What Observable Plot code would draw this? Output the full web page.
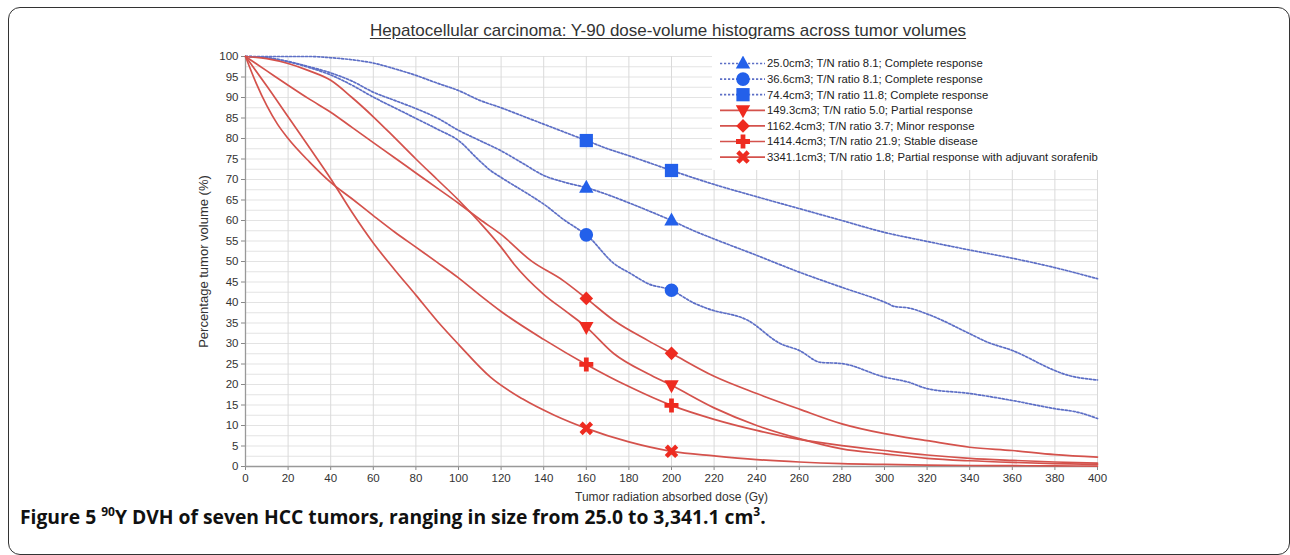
<!DOCTYPE html>
<html><head><meta charset="utf-8">
<script src="https://cdn.jsdelivr.net/npm/d3@7"></script>
<script src="https://cdn.jsdelivr.net/npm/@observablehq/plot@0.6"></script>
<style>
body{margin:0;background:#fff;}
#wrap{position:relative;width:1290px;height:555px;overflow:hidden;font-family:"Liberation Sans",Arial,sans-serif;background:#fff;}
#frame{position:absolute;left:8px;top:7px;width:1282px;height:548px;border:1.6px solid #333;border-radius:12px;box-sizing:border-box;}
#title{position:absolute;left:0;width:1336px;top:21px;text-align:center;font-size:17px;color:#333;text-decoration:underline;text-underline-offset:2px;white-space:nowrap;}
#chart{position:absolute;left:0;top:0;}
#legend{position:absolute;left:712px;top:56px;width:388px;height:114px;background:#fff;}
#cap{position:absolute;left:20px;top:507px;font-family:"Open Sans",Lato,sans-serif;font-weight:700;font-size:19.3px;line-height:20px;color:#111;white-space:nowrap;}
#cap sup{font-size:12px;vertical-align:8px;line-height:0;}
</style></head>
<body>
<div id="wrap">
  <div id="frame"></div>
  <div id="chart"></div>
  <div id="title">Hepatocellular carcinoma: Y-90 dose-volume histograms across tumor volumes</div>
  <div id="legend"></div>
  <div id="cap">Figure 5 <sup>90</sup>Y DVH of seven HCC tumors, ranging in size from 25.0 to 3,341.1 cm<sup>3</sup>.</div>
</div>
<script>
// ---------- data ----------
const xTicks = [0,20,40,60,80,100,120,140,160,180,200,220,240,260,280,300,320,340,360,380,400];
const yTicks = [0,5,10,15,20,25,30,35,40,45,50,55,60,65,70,75,80,85,90,95,100];
const yGrid = [0,2.5,5,7.5,10,12.5,15,17.5,20,22.5,25,27.5,30,32.5,35,37.5,40,42.5,45,47.5,50,52.5,55,57.5,60,62.5,65,67.5,70,72.5,75,77.5,80,82.5,85,87.5,90,92.5,95,97.5,100];

const seriesNames = [
  "25.0cm3; T/N ratio 8.1; Complete response",
  "36.6cm3; T/N ratio 8.1; Complete response",
  "74.4cm3; T/N ratio 11.8; Complete response",
  "149.3cm3; T/N ratio 5.0; Partial response",
  "1162.4cm3; T/N ratio 3.7; Minor response",
  "1414.4cm3; T/N ratio 21.9; Stable disease",
  "3341.1cm3; T/N ratio 1.8; Partial response with adjuvant sorafenib"
];

const dose25 = [0,10,20,30,40,50,60,70,80,90,100,110,120,130,140,150,160,170,180,190,200,210,220,240,260,280,300,305,311,320,340,348,360,380,384,400];
const vol25  = [100,99.7,98.8,97.5,96,94,91.3,89.3,87.3,85,82,79.5,77,74,71,69.3,68,66.3,64.3,62.2,60,57.6,55.5,51.5,47.4,43.7,40.1,39,38.7,37.2,32.4,30.4,28.3,23.4,22.6,21.1];

const dose36 = [0,10,20,30,40,50,60,70,80,90,100,110,115,120,135,140,150,157,160,173,181,189,200,210,217,236,251,260,270,280,300,311,320,340,360,380,391,400];
const vol36  = [100,99.7,98.7,97.3,95.5,93,90.1,87.5,84.9,82.3,79.5,74.5,72.2,70.5,65.7,64,60,57.6,56.5,49.5,47,44.6,43,40,38.5,35.6,30,28.3,25.4,25.1,21.8,20.6,19,17.8,16.1,14.1,13.2,11.7];

const dose74 = [0,30,40,50,60,70,80,90,100,110,120,130,140,150,160,170,180,190,200,220,240,260,280,300,320,340,360,380,400];
const vol74  = [100,100,99.7,99.2,98.4,97,95.4,93.5,91.7,89.3,87.5,85.5,83.5,81.5,79.5,77.5,75.8,74,72.2,68.8,65.8,62.9,60,57.1,54.9,52.8,50.8,48.5,45.8];

const dose149 = [0,10,20,30,40,50,60,70,80,90,100,110,120,126,140,150,160,173,189,200,220,240,260,280,300,320,340,360,380,400];
const vol149  = [100,99.5,98.3,96.5,94.2,90,85.3,80.2,75,70,65,59.5,53.5,49.4,42,38,34,27.5,22.6,19.8,14.3,10,6.8,4.3,3.1,2,1.4,1,0.7,0.5];

const dose1162 = [0,10,20,30,40,50,60,70,80,90,100,110,120,134,149,160,173,189,200,220,240,260,280,300,320,340,360,380,400];
const vol1162  = [100,96.5,93,89.6,86.4,82.7,79,75.3,71.6,67.9,64.2,60.3,56.6,50.2,45.4,41,35.6,30.7,27.6,22,17.8,14,10.4,8,6.3,4.7,3.9,2.9,2.3];

const dose1414 = [0,5,10,15,20,30,40,50,60,70,80,90,100,110,120,140,160,180,200,220,240,260,280,300,320,340,360,380,400];
const vol1414  = [100,93.5,88,83.5,80,74.3,69.3,65.3,61.2,57.2,53.5,49.8,46,41.8,37.8,31,24.9,19.5,14.9,11.5,8.8,6.6,5.1,3.9,2.8,2,1.5,1.1,0.8];

const dose3341 = [0,10,20,30,40,50,60,70,80,90,100,115,130,145,160,180,200,220,240,260,280,300,320,340,360,380,400];
const vol3341  = [100,92.8,85.3,77.8,70.2,62,54.5,48,41.8,35.5,29.8,21.8,16.5,12.5,9.3,6,3.7,2.6,1.7,1.1,0.7,0.5,0.35,0.25,0.2,0.15,0.1];

const markerDose = [160,200];
const mark25 = [68,60];
const mark36 = [56.5,43];
const mark74 = [79.5,72.2];
const mark149 = [34,19.8];
const mark1162 = [41,27.6];
const mark1414 = [24.9,14.9];
const mark3341 = [9.3,3.7];

// ---------- symbols ----------
const hOf = s => Math.sqrt(s/Math.PI);
const symTriUp = {draw(c,s){const h=hOf(s);c.moveTo(0,-1.1*h);c.lineTo(h,0.7*h);c.lineTo(-h,0.7*h);c.closePath();}};
const symTriDown = {draw(c,s){const h=hOf(s);c.moveTo(0,1.1*h);c.lineTo(h,-0.7*h);c.lineTo(-h,-0.7*h);c.closePath();}};
const symCircle = {draw(c,s){const h=hOf(s);c.moveTo(h,0);c.arc(0,0,h,0,2*Math.PI);}};
const symSquare = {draw(c,s){const h=hOf(s)*0.92;c.rect(-h,-h,2*h,2*h);}};
const symDiamond = {draw(c,s){const h=hOf(s);c.moveTo(0,-h);c.lineTo(h,0);c.lineTo(0,h);c.lineTo(-h,0);c.closePath();}};
function crossPts(h,t,rot){
  const p=[[-t,-h],[t,-h],[t,-t],[h,-t],[h,t],[t,t],[t,h],[-t,h],[-t,t],[-h,t],[-h,-t],[-t,-t]];
  const ca=Math.cos(rot), sa=Math.sin(rot);
  return p.map(([x,y])=>[x*ca-y*sa,x*sa+y*ca]);
}
const symPlus = {draw(c,s){const h=hOf(s);const p=crossPts(h,h*0.34,0);c.moveTo(...p[0]);p.slice(1).forEach(q=>c.lineTo(...q));c.closePath();}};
const symTimes = {draw(c,s){const h=hOf(s)*1.05;const p=crossPts(h,h*0.3,Math.PI/4);c.moveTo(...p[0]);p.slice(1).forEach(q=>c.lineTo(...q));c.closePath();}};

const BLUE_LINE="#5d6fc6", BLUE_FILL="#2360ea", RED_LINE="#d4524c", RED_FILL="#ee2b20";

const series = [
  {name:seriesNames[0], dose:dose25, vol:vol25, mark:mark25, sym:symTriUp, blue:true, r:7.2},
  {name:seriesNames[1], dose:dose36, vol:vol36, mark:mark36, sym:symCircle, blue:true, r:6.8},
  {name:seriesNames[2], dose:dose74, vol:vol74, mark:mark74, sym:symSquare, blue:true, r:7.2},
  {name:seriesNames[3], dose:dose149, vol:vol149, mark:mark149, sym:symTriDown, blue:false, r:7.2},
  {name:seriesNames[4], dose:dose1162, vol:vol1162, mark:mark1162, sym:symDiamond, blue:false, r:6.8},
  {name:seriesNames[5], dose:dose1414, vol:vol1414, mark:mark1414, sym:symPlus, blue:false, r:7},
  {name:seriesNames[6], dose:dose3341, vol:vol3341, mark:mark3341, sym:symTimes, blue:false, r:7}
];

const lineMarks = [];
const dotMarks = [];
for (const s of series) {
  const pts = s.dose.map((d,i)=>({d, v:s.vol[i]}));
  lineMarks.push(Plot.line(pts, {x:"d", y:"v", curve:"monotone-x",
    stroke: s.blue?BLUE_LINE:RED_LINE, strokeWidth:1.7,
    strokeDasharray: s.blue?"2.2,1.8":null}));
  const mk = markerDose.map((d,i)=>({d, v:s.mark[i]}));
  dotMarks.push(Plot.dot(mk, {x:"d", y:"v", symbol:s.sym, r:s.r, fill:s.blue?BLUE_FILL:RED_FILL, stroke:"none"}));
}

const chart = Plot.plot({
  width:1290, height:555,
  marginLeft:245, marginRight:193, marginTop:56, marginBottom:89,
  x:{domain:[0,400]},
  y:{domain:[0,100]},
  style:{fontFamily:"'Liberation Sans', Arial, sans-serif", fontSize:"11.5px", color:"#333", background:"transparent", overflow:"visible"},
  marks:[
    Plot.ruleY(yGrid, {stroke:"#e3e3e3", strokeWidth:1}),
    Plot.ruleX(xTicks, {stroke:"#dadada", strokeWidth:1}),
    Plot.axisX({ticks:xTicks, tickSize:4, tickPadding:3, stroke:"#888", label:null, fontSize:11.5}),
    Plot.axisY({ticks:yTicks, tickSize:4, tickPadding:3, stroke:"#888", label:null, fontSize:11.5}),
    Plot.axisX({ticks:[], label:"Tumor radiation absorbed dose (Gy)", labelAnchor:"center", labelArrow:"none", labelOffset:34, fontSize:12}),
    Plot.axisY({ticks:[], label:"Percentage tumor volume (%)", labelAnchor:"center", labelArrow:"none", labelOffset:47, fontSize:13}),
    Plot.ruleX([0], {stroke:"#999", strokeWidth:1.3}),
    Plot.ruleY([0], {stroke:"#999", strokeWidth:1.3}),
    ...lineMarks,
    ...dotMarks
  ]
});
document.getElementById("chart").appendChild(chart);

// ---------- legend ----------
const lg = d3.select("#legend").append("svg").attr("width",388).attr("height",114)
  .style("font-family","'Liberation Sans', Arial, sans-serif").style("font-size","11.3px");
series.forEach((s,i)=>{
  const y = 7.5 + i*15.6;
  const g = lg.append("g").attr("transform",`translate(0,${y})`);
  g.append("line").attr("x1",8).attr("x2",53).attr("y1",0).attr("y2",0)
    .attr("stroke", s.blue?BLUE_LINE:RED_LINE).attr("stroke-width",1.7)
    .attr("stroke-dasharray", s.blue?"2.2,1.8":null);
  g.append("path").attr("transform","translate(31,0)")
    .attr("d", d3.symbol(s.sym, Math.PI*s.r*s.r)())
    .attr("fill", s.blue?BLUE_FILL:RED_FILL);
  g.append("text").attr("x",55).attr("dy","0.35em").attr("fill","#222").text(s.name);
});
</script>
</body></html>
